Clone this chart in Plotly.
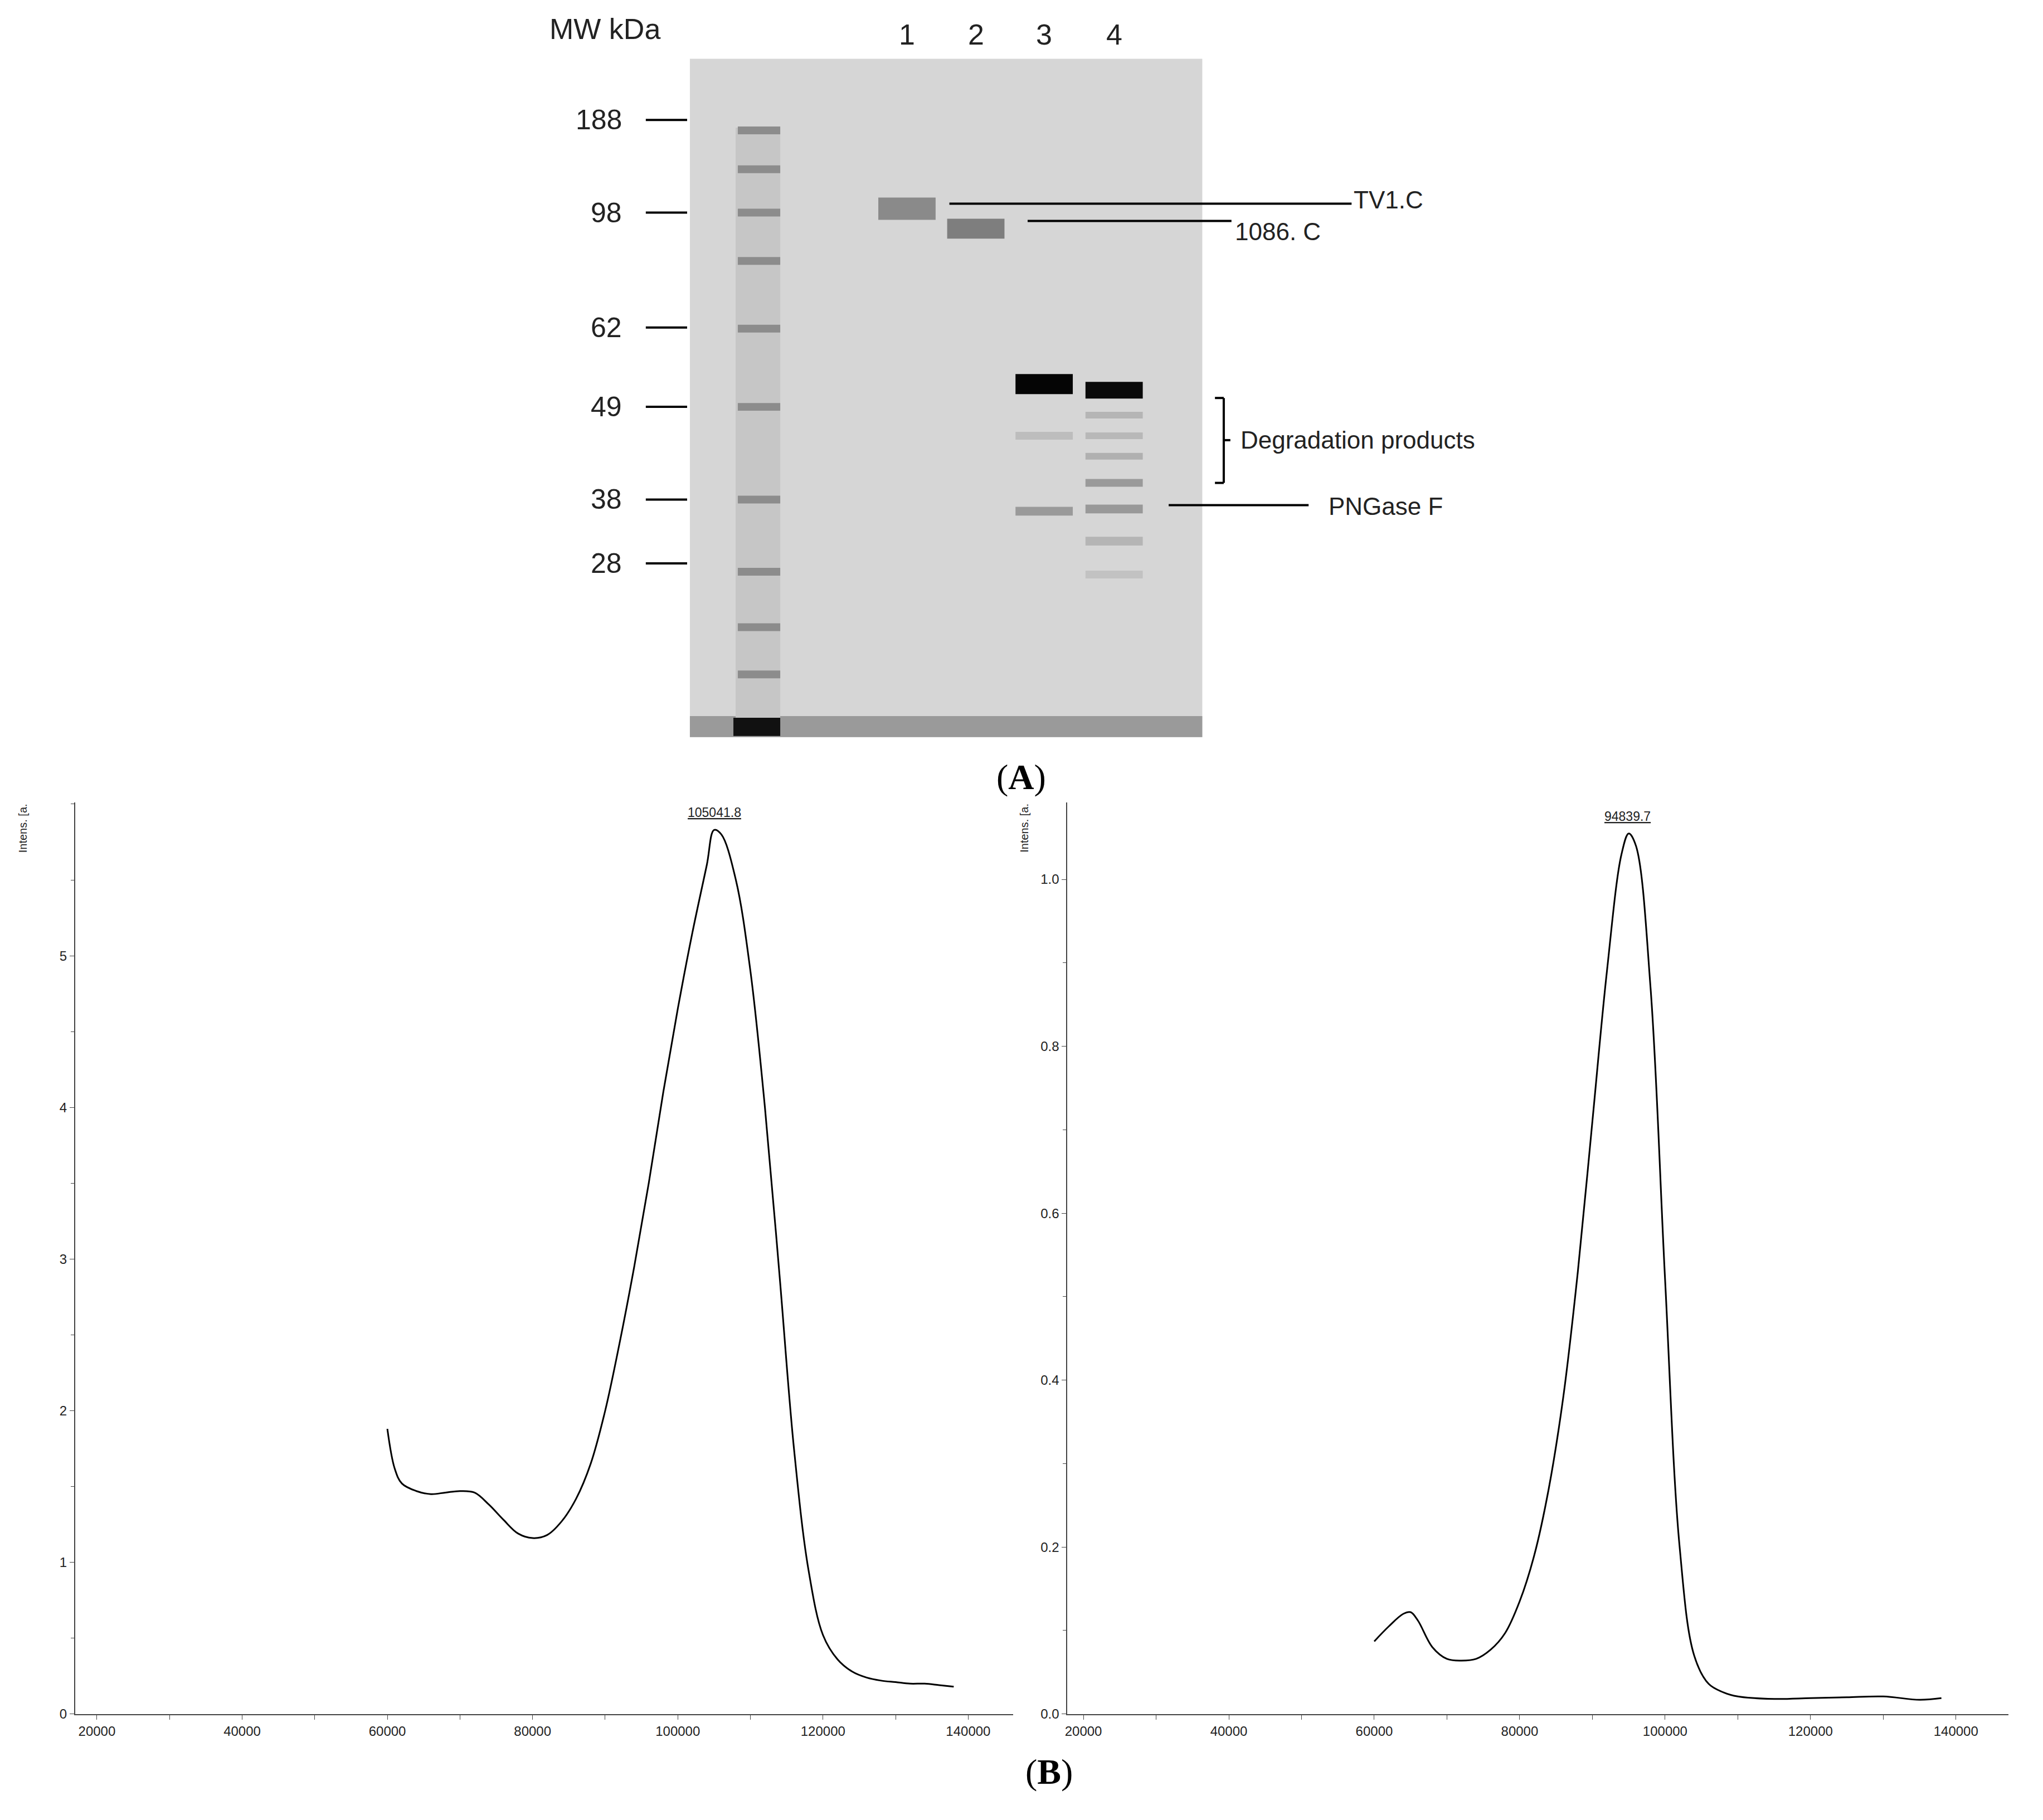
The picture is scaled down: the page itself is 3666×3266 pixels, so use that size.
import plotly.graph_objects as go

W, H = 3666, 3266

# ---- Data: MALDI spectra (m/z, intensity) ----
tv1_mz = [60000, 61000, 62000, 64000, 66000, 68000, 70000, 72000, 74000, 76000, 78000, 80000, 82000, 84000,
          86000, 88000, 90000, 92000, 94000, 96000, 98000, 100000, 102000, 104000, 105000, 106000, 108000,
          110000, 112000, 114000, 116000, 118000, 120000, 122000, 124000, 126000, 128000, 130000, 132000,
          134000, 136000, 138000]
tv1_int = [1.88, 1.62, 1.52, 1.47, 1.45, 1.46, 1.47, 1.46, 1.38, 1.28, 1.19, 1.16, 1.18, 1.27,
           1.42, 1.65, 2.0, 2.45, 2.95, 3.5, 4.1, 4.65, 5.15, 5.6, 5.83, 5.8, 5.5,
           4.9, 4.0, 2.9, 1.75, 0.95, 0.52, 0.36, 0.28, 0.24, 0.22, 0.21, 0.2, 0.2, 0.19, 0.18]
c1086_mz = [60000, 62000, 64000, 65000, 66000, 68000, 70000, 72000, 74000, 76000, 78000, 80000, 82000,
            84000, 86000, 88000, 90000, 92000, 94000, 95000, 96000, 98000, 100000, 102000, 104000,
            106000, 108000, 110000, 115000, 120000, 125000, 130000, 135000, 138000]
c1086_int = [0.087, 0.105, 0.12, 0.122, 0.112, 0.08, 0.066, 0.064, 0.066, 0.077, 0.097, 0.135, 0.19,
             0.27, 0.38, 0.53, 0.71, 0.89, 1.03, 1.055, 1.04, 0.87, 0.52, 0.2, 0.07,
             0.036, 0.026, 0.021, 0.018, 0.019, 0.02, 0.021, 0.017, 0.019]
peak_labels = ["105041.8", "94839.7"]
peak_x = [105041.8, 94839.7]
peak_y = [5.86, 1.06]
x_ticks = [20000, 40000, 60000, 80000, 100000, 120000, 140000]
x_ticktext = ["20000", "40000", "60000", "80000", "100000", "120000", "140000"]

# ---- Gel data ----
marker_labels = ["188", "98", "62", "49", "38", "28"]
marker_y_px = [216, 383, 590, 733, 900, 1015]
lane_labels = ["1", "2", "3", "4"]
lane_x_px = [1633, 1758, 1882, 2009]
band_lane = [0, 1, 2, 3, 2, 2, 3, 3, 3, 3, 3, 3, 3]
band_y = [376, 412, 692, 703, 785, 921, 748, 785, 822, 870, 917, 975, 1035]
band_col = ["#8a8a8a", "#7e7e7e", "#050505", "#0a0a0a", "#bdbdbd", "#9a9a9a", "#b5b5b5", "#b8b8b8",
            "#b0b0b0", "#9a9a9a", "#999999", "#b5b5b5", "#c2c2c2"]
band_h = [40, 36, 36, 30, 14, 16, 12, 12, 12, 14, 16, 16, 14]
ladder_y = [235, 305, 383, 470, 592, 733, 900, 1030, 1130, 1215]

def px(x): return x * 0.99 / W
def py(y): return 1 - (y - 8) / H
def qx(x): return x / W
def qy(y): return 1 - y / H

shapes, annotations = [], []
def rect(x0, x1, y0, y1, c):
    shapes.append(dict(type="rect", xref="paper", yref="paper", x0=px(x0), x1=px(x1), y0=py(y1), y1=py(y0),
                       fillcolor=c, line=dict(width=0), layer="below"))

rect(1239, 2169, 106, 1328, "#d6d6d6")
rect(1239, 2169, 1290, 1328, "#9a9a9a")
rect(1322, 1403, 230, 1300, "#c6c6c6")
rect(1318, 1403, 1293, 1326, "#111111")
for y in ladder_y:
    rect(1326, 1403, y - 7, y + 7, "#8c8c8c")
for l, y, c, h in zip(band_lane, band_y, band_col, band_h):
    cx = lane_x_px[l]
    rect(cx - 52, cx + 52, y - h / 2, y + h / 2, c)

def line(x0, y0, x1, y1, w=4):
    shapes.append(dict(type="line", xref="paper", yref="paper", x0=px(x0), x1=px(x1), y0=py(y0), y1=py(y1),
                       line=dict(color="black", width=w)))

def txt(t, x, y, size=44, anchor="left"):
    annotations.append(dict(text=t, x=px(x), y=py(y), xref="paper", yref="paper", showarrow=False,
                            xanchor=anchor, yanchor="middle", font=dict(size=size, family="Liberation Sans", color="#222")))

for lab, y in zip(marker_labels, marker_y_px):
    line(1159, y, 1234, y)
    txt(lab, 1118, y, 50, "right")
txt("MW kDa", 1085, 52, 52, "center")
for lab, x in zip(lane_labels, lane_x_px):
    txt(lab, x, 62, 52, "center")

line(1710, 367, 2440, 367)
txt("TV1.C", 2442, 360)
line(1852, 398, 2222, 398)
txt("1086. C", 2226, 417)
line(2192, 717, 2208, 717); line(2208, 717, 2208, 870); line(2192, 870, 2208, 870); line(2208, 793, 2220, 793)
txt("Degradation products", 2236, 793)
line(2108, 910, 2362, 910)
txt("PNGase F", 2396, 912)
annotations.append(dict(text="(<b>A</b>)", x=qx(1822), y=qy(1392), xref="paper", yref="paper", showarrow=False,
                        font=dict(size=64, family="Liberation Serif", color="black")))
annotations.append(dict(text="(<b>B</b>)", x=qx(1872), y=qy(3222), xref="paper", yref="paper", showarrow=False,
                        font=dict(size=64, family="Liberation Serif", color="black")))

fig = go.Figure()
fig.add_trace(go.Scatter(x=tv1_mz, y=tv1_int, mode="lines", line=dict(color="black", width=3, shape="spline"),
                         xaxis="x", yaxis="y", showlegend=False))
fig.add_trace(go.Scatter(x=c1086_mz, y=c1086_int, mode="lines", line=dict(color="black", width=3, shape="spline"),
                         xaxis="x2", yaxis="y2", showlegend=False))

for i, (lab, xv, yv) in enumerate(zip(peak_labels, peak_x, peak_y)):
    xa, ya = ("x", "y") if i == 0 else ("x2", "y2")
    annotations.append(dict(text="<u>" + lab + "</u>", x=xv, y=yv, xref=xa, yref=ya, showarrow=False,
                            yanchor="bottom", yshift=8, font=dict(size=23, family="Liberation Sans", color="#222")))

tickfont = dict(size=24, family="Liberation Sans", color="#222")
common = dict(showgrid=False, zeroline=False, showline=True, linecolor="#444", linewidth=2, ticks="outside",
              ticklen=8, tickcolor="#444", tickfont=tickfont)
fig.update_layout(
    width=W, height=H, margin=dict(l=0, r=0, t=0, b=0), paper_bgcolor="white", plot_bgcolor="white",
    xaxis=dict(domain=[qx(122), qx(1807)], range=[17000, 146150], anchor="y", tickvals=x_ticks, ticktext=x_ticktext,
               minor=dict(dtick=10000, ticks="outside", ticklen=8, tickcolor="#444"), **common),
    yaxis=dict(domain=[qy(3080), qy(1438)], range=[0, 6.01], anchor="x", tickvals=[0, 1, 2, 3, 4, 5],
               minor=dict(dtick=0.5, ticks="outside", ticklen=6, tickcolor="#444"), **common),
    xaxis2=dict(domain=[qx(1905), qx(3596)], range=[17800, 147230], anchor="y2", tickvals=x_ticks, ticktext=x_ticktext,
                minor=dict(dtick=10000, ticks="outside", ticklen=8, tickcolor="#444"), **common),
    yaxis2=dict(domain=[qy(3080), qy(1438)], range=[0, 1.092], anchor="x2", dtick=0.2, tickformat=".1f",
                minor=dict(dtick=0.1, ticks="outside", ticklen=6, tickcolor="#444"), **common),
    shapes=shapes,
)
annotations += [
    dict(text="Intens. [a.", x=qx(28), y=qy(1438), xref="paper", yref="paper", showarrow=False, textangle=-90,
         xanchor="center", yanchor="top", font=dict(size=20, family="Liberation Sans", color="#222")),
    dict(text="Intens. [a.", x=qx(1828), y=qy(1438), xref="paper", yref="paper", showarrow=False, textangle=-90,
         xanchor="center", yanchor="top", font=dict(size=20, family="Liberation Sans", color="#222")),
]
fig.update_layout(annotations=annotations)
fig.write_html("out.html")
